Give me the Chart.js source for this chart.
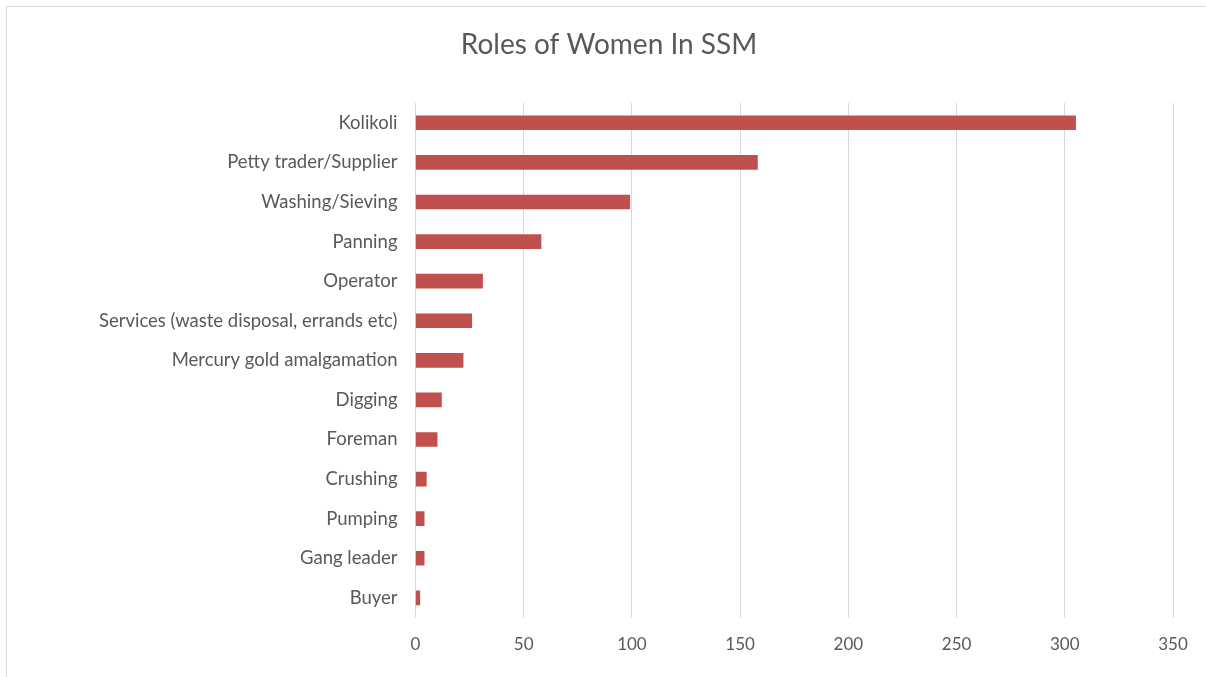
<!DOCTYPE html>
<html>
<head>
<meta charset="utf-8">
<script src="https://cdn.jsdelivr.net/npm/chart.js@4"></script>
<style>
  html, body { margin: 0; padding: 0; background: #fff; }
  #wrap { position: absolute; left: 0; top: 0; width: 1206px; height: 677px; }
  #rolesChart { position: absolute; left: 0; top: 0; }
  #frame {
    position: absolute; left: 6px; top: 6px; width: 1210px; height: 680px;
    border-left: 1.5px solid #d9d9d9; border-top: 1.5px solid #d9d9d9;
  }
</style>
</head>
<body>
<div id="wrap">
  <div id="frame"></div>
  <canvas id="rolesChart" width="1206" height="677"></canvas>
</div>
<script>
// roles, top to bottom
const roles = [
  "Kolikoli",
  "Petty trader/Supplier",
  "Washing/Sieving",
  "Panning",
  "Operator",
  "Services (waste disposal, errands etc)",
  "Mercury gold amalgamation",
  "Digging",
  "Foreman",
  "Crushing",
  "Pumping",
  "Gang leader",
  "Buyer"
];
const counts = [305, 158, 99, 58, 31, 26, 22, 12, 10, 5, 4, 4, 2];
const xTicks = [0, 50, 100, 150, 200, 250, 300, 350];
const chartTitle = "Roles of Women In SSM";

const textColor = "#595959";
const gridColor = "#d9d9d9";
const fontFamily = "Lato, 'Open Sans', sans-serif";

// title centred on the whole canvas, not on the plot area
const titlePlugin = {
  id: "pageTitle",
  afterDraw(chart) {
    const ctx = chart.ctx;
    ctx.save();
    ctx.fillStyle = textColor;
    ctx.font = "28px " + fontFamily;
    ctx.textAlign = "center";
    ctx.textBaseline = "middle";
    ctx.fillText(chartTitle, 609, 45);
    ctx.restore();
  }
};

const rolesChart = new Chart("rolesChart", {
  type: "bar",
  data: {
    labels: roles,
    datasets: [{
      data: counts,
      backgroundColor: "#C0504D",
      borderWidth: 0,
      barThickness: 14
    }]
  },
  plugins: [titlePlugin],
  options: {
    indexAxis: "y",
    responsive: false,
    animation: false,
    layout: { padding: { left: 0, right: 33, top: 103, bottom: 5 } },
    plugins: {
      legend: { display: false },
      tooltip: { enabled: false },
      title: { display: false }
    },
    scales: {
      x: {
        min: 0,
        max: 350,
        afterBuildTicks: function(scale) {
          scale.ticks = xTicks.map(v => ({ value: v }));
        },
        grid: { color: gridColor, lineWidth: 1, drawTicks: false },
        border: { display: false },
        ticks: {
          color: textColor,
          font: { family: fontFamily, size: 17 },
          padding: 17
        }
      },
      y: {
        afterFit: function(scale) { scale.width = 415.5; },
        grid: { display: false, drawTicks: false },
        border: { display: true, color: gridColor, width: 1 },
        ticks: {
          color: textColor,
          font: { family: fontFamily, size: 18.5 },
          padding: 18
        }
      }
    }
  }
});
</script>
</body>
</html>
